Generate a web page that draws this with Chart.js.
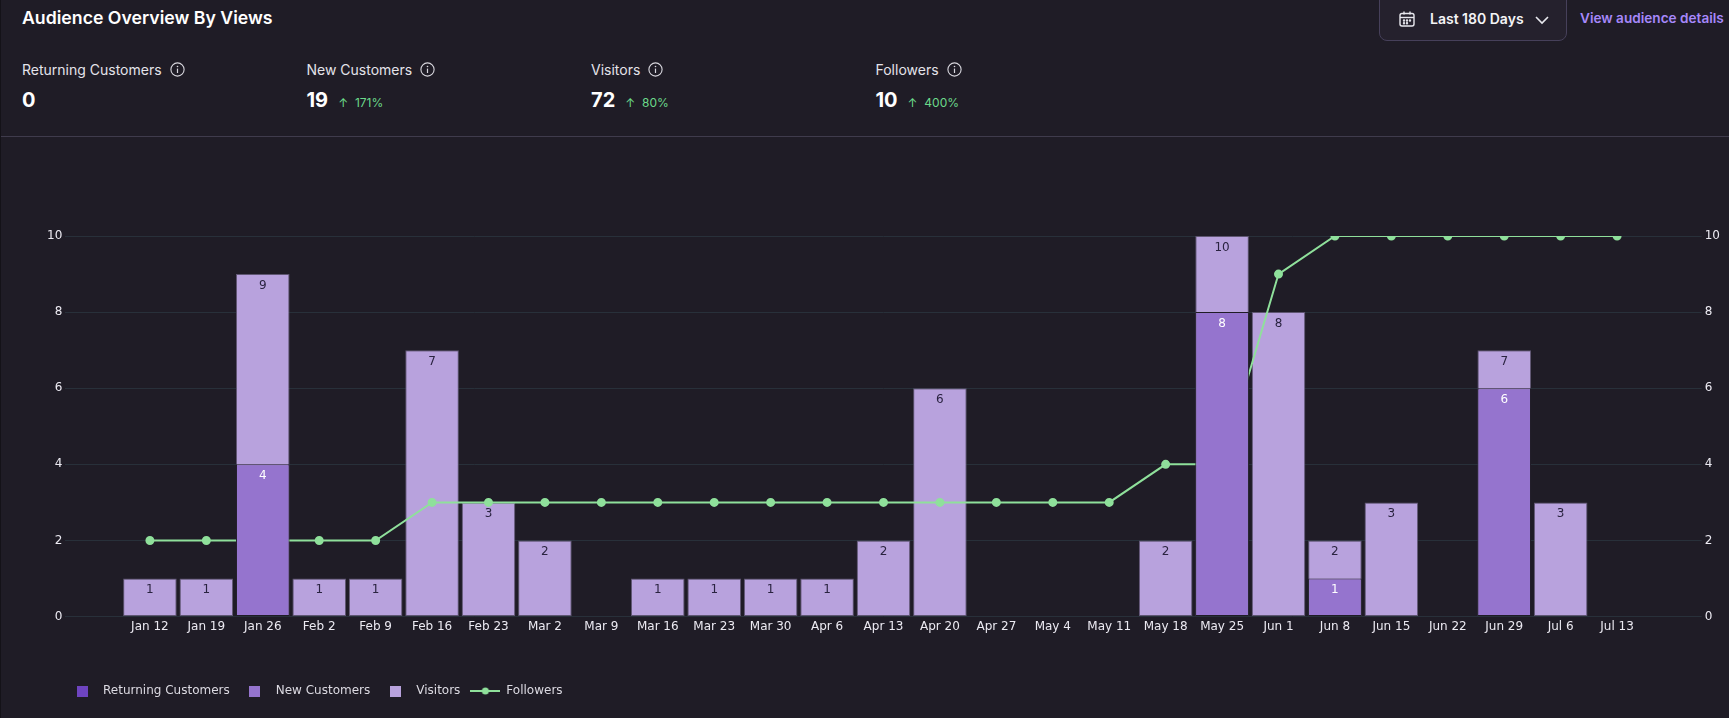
<!DOCTYPE html>
<html>
<head>
<meta charset="utf-8">
<script src="https://cdn.jsdelivr.net/npm/chart.js@4.4.1/dist/chart.umd.min.js"></script>
<style>
  html, body { margin: 0; padding: 0; }
  body {
    width: 1729px; height: 718px; overflow: hidden; position: relative;
    background: #1f1c26; font-family: Inter, "Noto Sans", sans-serif; color: #f2f2f5;
    border-left: 1px solid #141218; box-sizing: border-box;
  }
  .title { position: absolute; left: 21px; top: 7px; font-size: 17.7px; font-weight: 600; color: #fff; white-space: nowrap; }
  .metric { position: absolute; top: 58px; white-space: nowrap; }
  .metric .label { font-size: 14px; color: #e4e3ea; display: flex; align-items: center; gap: 8px; height: 22px; }
  .metric .value { margin-top: 8px; display: flex; align-items: baseline; gap: 10px; }
  .metric .num { font-size: 20px; font-weight: 700; color: #fff; }
  .metric .pct { font-size: 12px; color: #6bd98a; }
  .divider { position: absolute; left: 0; right: 0; top: 136px; height: 1px; background: #3f3b4c; }
  .range {
    position: absolute; left: 1378px; top: -10px; width: 188px; height: 51px;
    border: 1px solid #46405a; border-radius: 8px; background: #25212d; box-sizing: border-box;
  }
  .range .txt { position: absolute; left: 50px; top: 19px; font-size: 14px; font-weight: 600; color: #f4f4f6; white-space: nowrap; }
  .range svg { position: absolute; }
  .details { position: absolute; left: 1579px; top: 10px; font-size: 13.6px; font-weight: 600; color: #a688fa; white-space: nowrap; }
  #wrap { position: absolute; left: 0; top: 137px; width: 1729px; height: 581px; }
</style>
</head>
<body>
<div class="title">Audience Overview By Views</div>

<div class="range">
  <svg style="left:18px;top:19px" width="18" height="18" viewBox="0 0 18 18" fill="none" stroke="#e8e8ee" stroke-width="1.4">
    <rect x="2" y="3.5" width="14" height="12.5" rx="2"/>
    <line x1="2" y1="7.5" x2="16" y2="7.5"/>
    <line x1="6" y1="1.5" x2="6" y2="4.5"/>
    <line x1="12" y1="1.5" x2="12" y2="4.5"/>
    <circle cx="6" cy="10.5" r="0.5" fill="#e8e8ee"/><circle cx="9" cy="10.5" r="0.5" fill="#e8e8ee"/><circle cx="12" cy="10.5" r="0.5" fill="#e8e8ee"/>
    <circle cx="6" cy="13.2" r="0.5" fill="#e8e8ee"/><circle cx="9" cy="13.2" r="0.5" fill="#e8e8ee"/>
  </svg>
  <span class="txt">Last 180 Days</span>
  <svg style="left:154px;top:23px" width="16" height="12" viewBox="0 0 16 12" fill="none" stroke="#e8e8ee" stroke-width="1.6">
    <polyline points="2,3 8,9 14,3"/>
  </svg>
</div>
<div class="details">View audience details</div>

<div id="metrics"></div>
<div class="divider"></div>

<div id="wrap"><canvas id="audienceChart"></canvas></div>

<script>
const labels = ['', 'Jan 12', 'Jan 19', 'Jan 26', 'Feb 2', 'Feb 9', 'Feb 16', 'Feb 23', 'Mar 2', 'Mar 9',
  'Mar 16', 'Mar 23', 'Mar 30', 'Apr 6', 'Apr 13', 'Apr 20', 'Apr 27', 'May 4', 'May 11', 'May 18',
  'May 25', 'Jun 1', 'Jun 8', 'Jun 15', 'Jun 22', 'Jun 29', 'Jul 6', 'Jul 13', ''];

const returningCustomers = [null, 0, 0, 0, 0, 0, 0, 0, 0, 0, 0, 0, 0, 0, 0, 0, 0, 0, 0, 0, 0, 0, 0, 0, 0, 0, 0, 0, null];
const newCustomers = [null, 0, 0, 4, 0, 0, 0, 0, 0, 0, 0, 0, 0, 0, 0, 0, 0, 0, 0, 0, 8, 0, 1, 0, 0, 6, 0, 0, null];
const visitors = [null, 1, 1, 9, 1, 1, 7, 3, 2, 0, 1, 1, 1, 1, 2, 6, 0, 0, 0, 2, 10, 8, 2, 3, 0, 7, 3, 0, null];
const followers = [null, 2, 2, 2, 2, 2, 3, 3, 3, 3, 3, 3, 3, 3, 3, 3, 3, 3, 3, 4, 4, 9, 10, 10, 10, 10, 10, 10, null];

const yTicks = [0, 2, 4, 6, 8, 10];

const metricNames = ['Returning Customers', 'New Customers', 'Visitors', 'Followers'];
const metricTotals = ['0', '19', '72', '10'];
const metricChange = ['', '171%', '80%', '400%'];

const colors = {
    returning: '#6e44c0',
    newCust: '#9574ce',
    visitors: '#b8a2dd',
    followers: '#8fe09b',
    grid: '#28303a',
    text: '#eceaf2'
};

// header metrics
const infoIcon = '<svg width="15" height="15" viewBox="0 0 15 15" fill="none"><circle cx="7.5" cy="7.5" r="6.6" stroke="#d8d7de" stroke-width="1.1"/><line x1="7.5" y1="6.6" x2="7.5" y2="11" stroke="#d8d7de" stroke-width="1.2"/><circle cx="7.5" cy="4.5" r="0.8" fill="#d8d7de"/></svg>';
const metricsEl = document.getElementById('metrics');
metricNames.forEach((name, i) => {
    const el = document.createElement('div');
    el.className = 'metric';
    el.style.left = (21 + i * 284.5) + 'px';
    const pct = metricChange[i] ? `<span class="pct">&#8593;&nbsp; ${metricChange[i]}</span>` : '';
    el.innerHTML = `<div class="label">${name}${infoIcon}</div><div class="value"><span class="num">${metricTotals[i]}</span>${pct}</div>`;
    metricsEl.appendChild(el);
});

// legend icons
const makeIcon = (w, h, draw) => {
    const c = document.createElement('canvas');
    c.width = w; c.height = h;
    draw(c.getContext('2d'));
    return c;
};
const squareIcon = color => makeIcon(11, 11, ctx => { ctx.fillStyle = color; ctx.fillRect(0, 0, 11, 11); });
const lineIcon = makeIcon(30, 10, ctx => {
    ctx.strokeStyle = colors.followers; ctx.lineWidth = 2;
    ctx.beginPath(); ctx.moveTo(0, 5); ctx.lineTo(30, 5); ctx.stroke();
    ctx.fillStyle = colors.followers;
    ctx.beginPath(); ctx.arc(15, 5, 3.5, 0, Math.PI * 2); ctx.fill();
});
const legendIcons = [squareIcon(colors.returning), squareIcon(colors.newCust), squareIcon(colors.visitors), lineIcon];

// value labels inside bars
const barLabels = {
    id: 'barLabels',
    afterDatasetsDraw(chart) {
        const { ctx } = chart;
        ctx.save();
        ctx.font = '12px "DejaVu Sans"';
        ctx.textAlign = 'center';
        ctx.textBaseline = 'middle';
        [2, 1].forEach(di => {
            const meta = chart.getDatasetMeta(di);
            const data = chart.data.datasets[di].data;
            ctx.fillStyle = di === 1 ? '#ffffff' : '#2a2340';
            meta.data.forEach((bar, i) => {
                if (!data[i]) return;
                ctx.fillText(String(data[i]), bar.x, bar.y + 11.5);
            });
        });
        ctx.restore();
    }
};

const legendShift = {
    id: 'legendShift',
    afterLayout(chart) {
        chart.legend.left += 13;
    }
};

Chart.defaults.font.family = '"DejaVu Sans"';
Chart.defaults.font.size = 12;
Chart.defaults.color = colors.text;

new Chart(document.getElementById('audienceChart'), {
    type: 'bar',
    data: {
        labels,
        datasets: [
            {
                label: 'Returning Customers',
                data: returningCustomers,
                backgroundColor: colors.returning,
                borderColor: '#1f1c26',
                borderWidth: 1,
                order: 0
            },
            {
                label: 'New Customers',
                data: newCustomers,
                backgroundColor: colors.newCust,
                borderColor: '#1f1c26',
                borderWidth: 1,
                order: 1
            },
            {
                label: 'Visitors',
                data: visitors,
                backgroundColor: colors.visitors,
                borderColor: '#5f5672',
                borderWidth: 1,
                order: 3
            },
            {
                type: 'line',
                label: 'Followers',
                data: followers,
                yAxisID: 'y1',
                borderColor: colors.followers,
                backgroundColor: colors.followers,
                borderWidth: 2,
                pointRadius: 3.5,
                pointHoverRadius: 4,
                tension: 0,
                order: 2
            }
        ]
    },
    options: {
        responsive: true,
        maintainAspectRatio: false,
        animation: false,
        datasets: {
            bar: { categoryPercentage: 1, barPercentage: 0.95, borderSkipped: false }
        },
        layout: { padding: { left: 43, right: 7, top: 99, bottom: 11 } },
        plugins: {
            tooltip: { enabled: false },
            legend: {
                position: 'bottom',
                align: 'start',
                labels: {
                    usePointStyle: true,
                    pointStyleWidth: 30,
                    padding: 10,
                    color: '#dcdae2',
                    sort: (a, b) => a.datasetIndex - b.datasetIndex,
                    generateLabels: chart => Chart.defaults.plugins.legend.labels.generateLabels(chart)
                        .map(item => ({ ...item, pointStyle: legendIcons[item.datasetIndex] }))
                }
            }
        },
        scales: {
            x: {
                stacked: true,
                grid: { display: false, drawTicks: false },
                border: { display: false },
                ticks: { autoSkip: false, maxRotation: 0, padding: 3, color: colors.text },
                afterFit: scale => { scale.height += 38; }
            },
            y: {
                stacked: false,
                min: 0,
                max: 10,
                afterBuildTicks: axis => { axis.ticks = yTicks.map(v => ({ value: v })); },
                grid: { color: colors.grid, drawTicks: false },
                border: { display: false },
                ticks: { padding: 3, color: colors.text }
            },
            y1: {
                position: 'right',
                min: 0,
                max: 10,
                afterBuildTicks: axis => { axis.ticks = yTicks.map(v => ({ value: v })); },
                grid: { display: false, drawTicks: false },
                border: { display: false },
                ticks: { padding: 3, color: colors.text }
            }
        }
    },
    plugins: [barLabels, legendShift]
});
</script>
</body>
</html>
